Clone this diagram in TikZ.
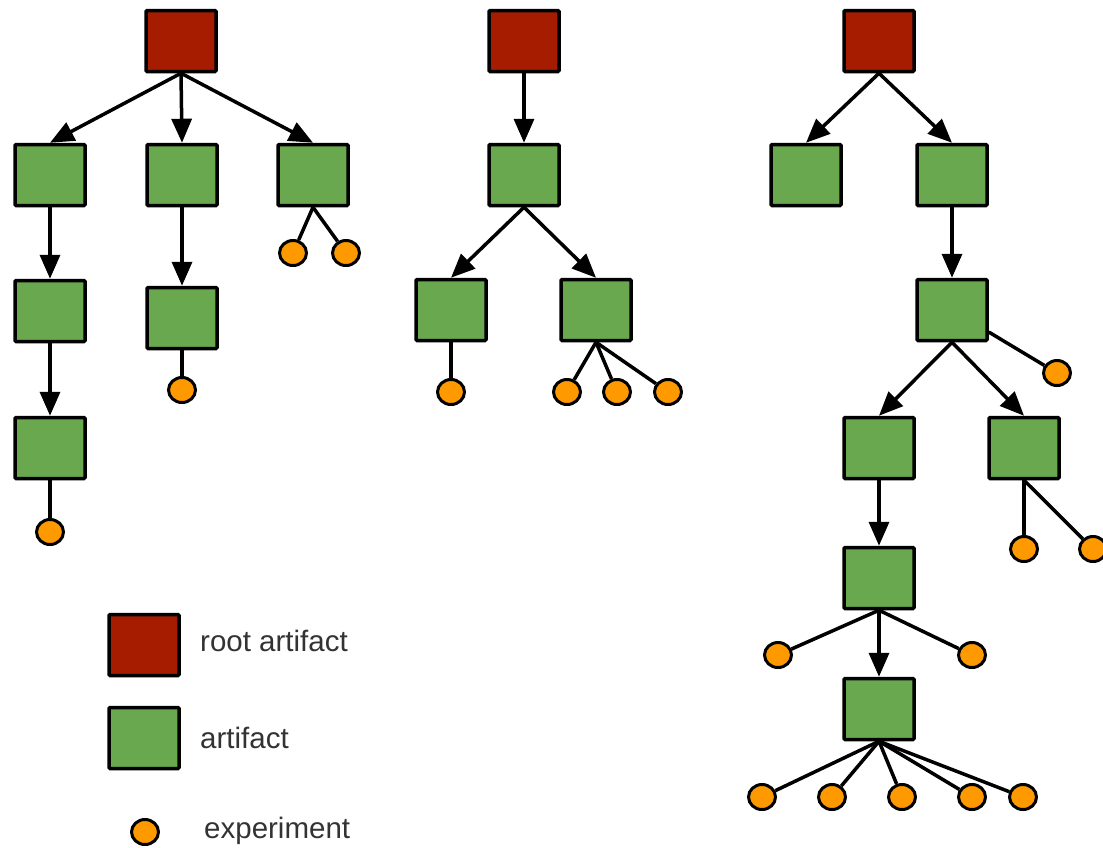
\documentclass[tikz,border=0pt]{standalone}
\usepackage{fontspec}
\setmainfont{Liberation Sans}
\usetikzlibrary{shapes.geometric,arrows.meta}
\definecolor{rootred}{HTML}{A61C00}
\definecolor{artgreen}{HTML}{6AA84F}
\definecolor{exporange}{HTML}{FF9900}
\begin{document}
\begin{tikzpicture}[x=1pt,y=-1pt,
 box/.style={draw=black, line width=3.5pt, minimum width=70pt, minimum height=61pt, inner sep=0pt, rounded corners=1pt},
 rootbox/.style={box, fill=rootred},
 artbox/.style={box, fill=artgreen},
 expt/.style={ellipse, draw=black, line width=3pt, fill=exporange, minimum width=27pt, minimum height=25pt, inner sep=0pt},
 arr/.style={line width=3.5pt, -{Triangle[length=24pt,width=20pt]}},
 ln/.style={line width=3.5pt},
 lbl/.style={anchor=west, font=\fontsize{29.5}{32}\selectfont, text=black!80, inner sep=0pt}]
\useasboundingbox (0,0) rectangle (1103,847);
\fill[white] (0,0) rectangle (1103,847);

% ---------- tree 1 ----------
\node[rootbox] (r1) at (181,41) {};
\node[artbox] (a1) at (50,175) {};
\node[artbox] (a2) at (182,175) {};
\node[artbox] (a3) at (313,175) {};
\node[artbox] (a4) at (50,311) {};
\node[artbox] (a5) at (50,448) {};
\node[artbox] (a6) at (182,318) {};
\node[expt] (e1) at (293,253) {};
\node[expt] (e2) at (346,253) {};
\node[expt] (e3) at (50,532) {};
\node[expt] (e4) at (182,390) {};
\draw[arr] (r1.south) -- (a1.north);
\draw[arr] (r1.south) -- (a2.north);
\draw[arr] (r1.south) -- (a3.north);
\draw[arr] (a1.south) -- (a4.north);
\draw[arr] (a4.south) -- (a5.north);
\draw[arr] (a2.south) -- (a6.north);
\draw[ln] (a3.south) -- (e1);
\draw[ln] (a3.south) -- (e2);
\draw[ln] (a5.south) -- (e3);
\draw[ln] (a6.south) -- (e4);

% ---------- tree 2 ----------
\node[rootbox] (r2) at (524,41) {};
\node[artbox] (b1) at (524,175) {};
\node[artbox] (b2) at (451,310) {};
\node[artbox] (b3) at (596,310) {};
\node[expt] (f1) at (451,392) {};
\node[expt] (f2) at (567,392) {};
\node[expt] (f3) at (617,392) {};
\node[expt] (f4) at (668,392) {};
\draw[arr] (r2.south) -- (b1.north);
\draw[arr] (b1.south) -- (b2.north);
\draw[arr] (b1.south) -- (b3.north);
\draw[ln] (b2.south) -- (f1);
\draw[ln] (b3.south) -- (f2);
\draw[ln] (b3.south) -- (f3);
\draw[ln] (b3.south) -- (f4);

% ---------- tree 3 ----------
\node[rootbox] (r3) at (879,41) {};
\node[artbox] (c1) at (806,175) {};
\node[artbox] (c2) at (952,175) {};
\node[artbox] (c3) at (952,310) {};
\node[artbox] (c4) at (879,448) {};
\node[artbox] (c5) at (1024,448) {};
\node[artbox] (c6) at (879,578) {};
\node[artbox] (c7) at (879,709) {};
\node[expt] (g1) at (1057,373) {};
\node[expt] (g2) at (1024,549) {};
\node[expt] (g3) at (1093,549) {};
\node[expt] (g4) at (778,655) {};
\node[expt] (g5) at (972,655) {};
\node[expt] (g6) at (762,797) {};
\node[expt] (g7) at (832,797) {};
\node[expt] (g8) at (902,797) {};
\node[expt] (g9) at (972,797) {};
\node[expt] (g10) at (1023,797) {};
\draw[arr] (r3.south) -- (c1.north);
\draw[arr] (r3.south) -- (c2.north);
\draw[arr] (c2.south) -- (c3.north);
\draw[arr] (c3.south) -- (c4.north);
\draw[arr] (c3.south) -- (c5.north);
\draw[arr] (c4.south) -- (c6.north);
\draw[arr] (c6.south) -- (c7.north);
\draw[ln] (c3) -- (g1);
\draw[ln] (c5.south) -- (g2);
\draw[ln] (c5.south) -- (g3);
\draw[ln] (c6.south) -- (g4);
\draw[ln] (c6.south) -- (g5);
\draw[ln] (c7.south) -- (g6);
\draw[ln] (c7.south) -- (g7);
\draw[ln] (c7.south) -- (g8);
\draw[ln] (c7.south) -- (g9);
\draw[ln] (c7.south) -- (g10);

% ---------- legend ----------
\node[rootbox] (lr) at (144,645) {};
\node[artbox] (la) at (144,738) {};
\node[expt] (le) at (145,832) {};
\node[lbl] (tr) at (200,641) {root artifact};
\node[lbl] (ta) at (200,738) {artifact};
\node[lbl] (te) at (204,831) {experiment};
\end{tikzpicture}
\end{document}
